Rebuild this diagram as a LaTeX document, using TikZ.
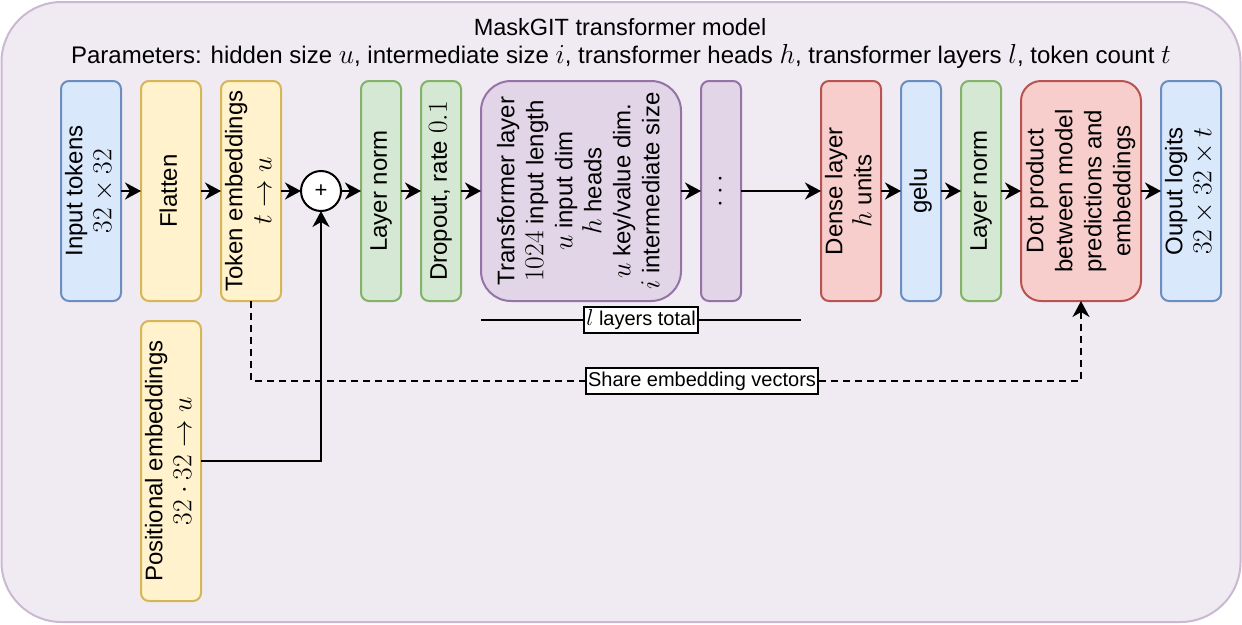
\RequirePackage{fix-cm}
\documentclass[tikz,border=0pt]{standalone}
\usepackage{fontspec}
\setmainfont{Liberation Sans}
\usepackage{graphicx}
\usetikzlibrary{arrows.meta,calc}
\DeclareMathSizes{24}{27.5}{19}{14}
\DeclareMathSizes{23.5}{27}{19}{14}
\DeclareMathSizes{20}{23}{16}{12}
\definecolor{bgfill}{HTML}{F0EAF3}
\definecolor{bgdraw}{HTML}{CAB9D2}
\definecolor{bluefill}{HTML}{DAE8FC}
\definecolor{bluedraw}{HTML}{6C8EBF}
\definecolor{yelfill}{HTML}{FFF2CC}
\definecolor{yeldraw}{HTML}{D6B656}
\definecolor{grnfill}{HTML}{D5E8D4}
\definecolor{grndraw}{HTML}{82B366}
\definecolor{purfill}{HTML}{E1D5E7}
\definecolor{purdraw}{HTML}{9673A6}
\definecolor{redfill}{HTML}{F8CECC}
\definecolor{reddraw}{HTML}{B85450}
\newcommand{\vtxt}[1]{\rotatebox{90}{\begin{tabular}{@{}c@{}}#1\end{tabular}}}
\begin{document}
\begin{tikzpicture}[x=1pt,y=-1pt,
  font=\fontsize{23.5}{28.5}\selectfont,
  box/.style={draw, line width=2pt, rounded corners=8pt, inner sep=0pt, outer sep=0pt,
    minimum height=220pt, text=black, font=\fontsize{24}{29}\selectfont},
  bluebox/.style={box, fill=bluefill, draw=bluedraw},
  yelbox/.style={box, fill=yelfill, draw=yeldraw},
  grnbox/.style={box, fill=grnfill, draw=grndraw},
  purbox/.style={box, fill=purfill, draw=purdraw},
  redbox/.style={box, fill=redfill, draw=reddraw},
  arr/.style={line width=2pt, -{Stealth[length=16pt,width=17pt,inset=5pt]}},
  lbl/.style={draw, fill=white, line width=2pt, inner sep=2.5pt, text height=16pt, text depth=5pt,
    font=\fontsize{20}{24}\selectfont},
  plusnode/.style={circle, draw, fill=white, line width=2pt, minimum size=40pt, inner sep=0pt,
    outer sep=0pt, font=\fontsize{22}{24}\selectfont}
]
\useasboundingbox (0,0) rectangle (1242,624);
% container
\node[draw=bgdraw, fill=bgfill, line width=2pt, rounded corners=60pt, minimum width=1239pt,
  minimum height=620pt, inner sep=0pt] (model) at (621,312) {};
\node (title) at (620,27) {MaskGIT transformer model};
\node[font=\fontsize{24}{29}\selectfont] (params) at (621,56) {Parameters: hidden size $u$, intermediate size $i$, transformer heads $h$, transformer layers $l$, token count $t$};

% main row
\node[bluebox, minimum width=60pt] (inp) at (91,191) {\vtxt{Input tokens\\$32\times32$}};
\node[yelbox, minimum width=60pt] (flat) at (171,191) {\vtxt{Flatten}};
\node[yelbox, minimum width=60pt] (tok) at (251,191) {\vtxt{Token embeddings\\$t\to u$}};
\node[plusnode] (plus) at (321,191) {+};
\node[grnbox, minimum width=40pt] (ln1) at (381,191) {\vtxt{Layer norm}};
\node[grnbox, minimum width=40pt] (drop) at (441,191) {\vtxt{Dropout, rate $0.1$}};
\node[purbox, rounded corners=30pt, minimum width=200pt] (tr) at (581,191)
  {\vtxt{Transformer layer\\$1024$ input length\\$u$ input dim\\$h$ heads\\$u$ key/value dim.\\$i$ intermediate size}};
\node[purbox, minimum width=40pt] (dots) at (721,191) {\rotatebox{90}{$\cdots$}};
\node[redbox, minimum width=60pt] (dense) at (851,191) {\vtxt{Dense layer\\$h$ units}};
\node[bluebox, minimum width=40pt] (gelu) at (921,191) {\vtxt{gelu}};
\node[grnbox, minimum width=40pt] (ln2) at (981,191) {\vtxt{Layer norm}};
\node[redbox, rounded corners=20pt, minimum width=120pt] (dot) at (1081,191)
  {\vtxt{Dot product\\between model\\predictions and\\embeddings}};
\node[bluebox, minimum width=60pt] (out) at (1191,191) {\vtxt{Ouput logits\\$32\times32\times t$}};
\node[yelbox, minimum width=60pt, minimum height=280pt] (pos) at (171,461)
  {\vtxt{Positional embeddings\\$32\cdot32\to u$}};

% connectors
\draw[arr] (inp) -- (flat);
\draw[arr] (flat) -- (tok);
\draw[arr] (tok) -- (plus);
\draw[arr] (plus) -- (ln1);
\draw[arr] (ln1) -- (drop);
\draw[arr] (drop) -- (tr);
\draw[arr] (tr) -- (dots);
\draw[arr] (dots) -- (dense);
\draw[arr] (dense) -- (gelu);
\draw[arr] (gelu) -- (ln2);
\draw[arr] (ln2) -- (dot);
\draw[arr] (dot) -- (out);
\draw[arr] (pos.east) -| (plus.south);

% shared embeddings
\coordinate (shareY) at (0,381);
\draw[arr, dash pattern=on 7pt off 5pt] (tok.south) -- (tok.south |- shareY) -- (dot.south |- shareY) -- (dot.south);
\node[lbl] (share) at (702,381) {Share embedding vectors};

% layers total
\coordinate (lt1) at (481,320);
\coordinate (lt2) at (801,320);
\draw[line width=2pt] (lt1) -- (lt2);
\node[lbl] (ltot) at ($(lt1)!0.5!(lt2)$) {$l$ layers total};
\end{tikzpicture}
\end{document}
